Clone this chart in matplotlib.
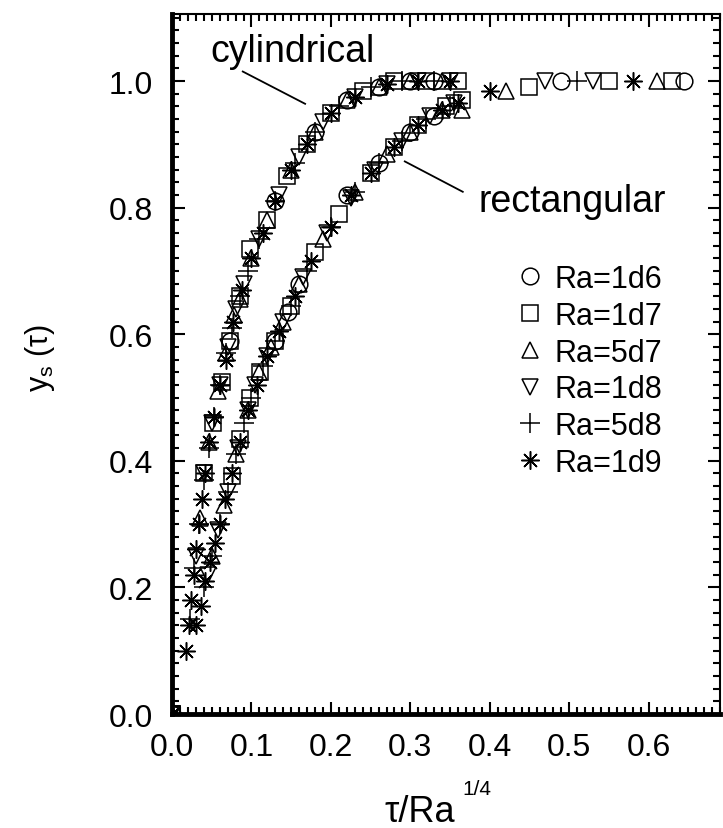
import matplotlib
matplotlib.use("Agg")
import matplotlib.pyplot as plt
from matplotlib.ticker import MultipleLocator, FormatStrFormatter

plt.rcParams['font.family'] = ['Liberation Sans', 'DejaVu Sans']

# series labels and markers
labels = ["Ra=1d6", "Ra=1d7", "Ra=5d7", "Ra=1d8", "Ra=5d8", "Ra=1d9"]

# cylindrical curves
cyl_x_1d6 = [0, 0.073, 0.13, 0.18, 0.22, 0.26, 0.30, 0.33]
cyl_y_1d6 = [0, 0.59, 0.81, 0.92, 0.97, 0.99, 1.0, 1.0]
cyl_x_1d7 = [0, 0.04, 0.052, 0.063, 0.073, 0.085, 0.098, 0.12, 0.145, 0.17, 0.20, 0.24, 0.28, 0.32, 0.36]
cyl_y_1d7 = [0, 0.38, 0.46, 0.525, 0.59, 0.66, 0.735, 0.78, 0.85, 0.90, 0.95, 0.985, 1.0, 1.0, 1.0]
cyl_x_5d7 = [0, 0.035, 0.047, 0.058, 0.068, 0.078, 0.086, 0.10, 0.12, 0.15, 0.18, 0.22, 0.26, 0.30, 0.34]
cyl_y_5d7 = [0, 0.31, 0.43, 0.51, 0.57, 0.63, 0.656, 0.72, 0.78, 0.86, 0.92, 0.97, 0.99, 1.0, 1.0]
cyl_x_1d8 = [0, 0.03, 0.04, 0.05, 0.06, 0.07, 0.08, 0.09, 0.11, 0.135, 0.16, 0.19, 0.23, 0.27, 0.31, 0.35]
cyl_y_1d8 = [0, 0.25, 0.38, 0.46, 0.52, 0.58, 0.64, 0.68, 0.75, 0.82, 0.88, 0.935, 0.975, 0.995, 1.0, 1.0]
cyl_x_5d8 = [0, 0.022, 0.028, 0.034, 0.04, 0.046, 0.053, 0.06, 0.068, 0.075, 0.085, 0.095, 0.11, 0.13,
             0.155, 0.18, 0.21, 0.25, 0.29, 0.33]
cyl_y_5d8 = [0, 0.15, 0.23, 0.30, 0.37, 0.42, 0.47, 0.52, 0.57, 0.61, 0.66, 0.70, 0.75, 0.81,
             0.87, 0.92, 0.96, 0.99, 1.0, 1.0]
cyl_x_1d9 = [0, 0.018, 0.021, 0.024, 0.027, 0.030, 0.034, 0.038, 0.042, 0.047, 0.053, 0.06, 0.068,
             0.077, 0.088, 0.10, 0.115, 0.13, 0.15, 0.17, 0.20, 0.23, 0.27, 0.31, 0.35]
cyl_y_1d9 = [0, 0.10, 0.14, 0.18, 0.22, 0.26, 0.30, 0.34, 0.38, 0.43, 0.47, 0.52, 0.56,
             0.62, 0.67, 0.72, 0.76, 0.81, 0.86, 0.90, 0.95, 0.975, 0.995, 1.0, 1.0]

# rectangular curves
rect_x_1d6 = [0, 0.13, 0.146, 0.16, 0.22, 0.26, 0.30, 0.33, 0.49, 0.645]
rect_y_1d6 = [0, 0.59, 0.635, 0.68, 0.82, 0.87, 0.92, 0.945, 1.0, 1.0]
rect_x_1d7 = [0, 0.075, 0.086, 0.098, 0.111, 0.13, 0.15, 0.18, 0.21, 0.25, 0.28, 0.31, 0.345, 0.365,
              0.45, 0.55, 0.63]
rect_y_1d7 = [0, 0.376, 0.435, 0.50, 0.54, 0.59, 0.645, 0.73, 0.79, 0.855, 0.895, 0.93, 0.96, 0.97,
              0.99, 1.0, 1.0]
rect_x_5d7 = [0, 0.05, 0.065, 0.08, 0.095, 0.11, 0.125, 0.14, 0.16, 0.19, 0.23, 0.27, 0.30, 0.34,
              0.365, 0.42, 0.61]
rect_y_5d7 = [0, 0.25, 0.33, 0.41, 0.48, 0.54, 0.58, 0.62, 0.68, 0.75, 0.825, 0.885, 0.92, 0.955,
              0.955, 0.985, 1.0]
rect_x_1d8 = [0, 0.045, 0.058, 0.07, 0.083, 0.095, 0.105, 0.12, 0.14, 0.165, 0.195, 0.225, 0.255,
              0.29, 0.325, 0.355, 0.47, 0.53]
rect_y_1d8 = [0, 0.22, 0.29, 0.35, 0.42, 0.48, 0.52, 0.565, 0.62, 0.69, 0.76, 0.815, 0.86,
              0.905, 0.945, 0.965, 1.0, 1.0]
rect_x_5d8 = [0, 0.04, 0.05, 0.06, 0.07, 0.08, 0.09, 0.10, 0.115, 0.13, 0.15, 0.17, 0.20, 0.23,
              0.26, 0.29, 0.32, 0.35, 0.51]
rect_y_5d8 = [0, 0.20, 0.25, 0.30, 0.35, 0.41, 0.46, 0.50, 0.55, 0.59, 0.645, 0.70, 0.77, 0.825,
              0.87, 0.905, 0.94, 0.96, 1.0]
rect_x_1d9 = [0, 0.03, 0.036, 0.042, 0.048, 0.054, 0.06, 0.067, 0.075, 0.085, 0.095, 0.107, 0.12,
              0.135, 0.155, 0.175, 0.20, 0.225, 0.25, 0.28, 0.31, 0.34, 0.36, 0.40, 0.58]
rect_y_1d9 = [0, 0.14, 0.17, 0.21, 0.24, 0.27, 0.30, 0.34, 0.38, 0.43, 0.48, 0.52, 0.565,
              0.605, 0.66, 0.715, 0.77, 0.82, 0.855, 0.895, 0.93, 0.955, 0.965, 0.985, 1.0]

cyl_x = [cyl_x_1d6, cyl_x_1d7, cyl_x_5d7, cyl_x_1d8, cyl_x_5d8, cyl_x_1d9]
cyl_y = [cyl_y_1d6, cyl_y_1d7, cyl_y_5d7, cyl_y_1d8, cyl_y_5d8, cyl_y_1d9]
rect_x = [rect_x_1d6, rect_x_1d7, rect_x_5d7, rect_x_1d8, rect_x_5d8, rect_x_1d9]
rect_y = [rect_y_1d6, rect_y_1d7, rect_y_5d7, rect_y_1d8, rect_y_5d8, rect_y_1d9]

markers = ['o', 's', '^', 'v', '+', (8, 2, 0)]
sizes = [12, 11, 12, 12, 14, 13]

fig = plt.figure(figsize=(7.23, 8.29), dpi=100)
ax = fig.add_axes([0.238, 0.1375, 0.758, 0.8445])

for i in range(6):
    style = dict(marker=markers[i], linestyle='none', markersize=sizes[i], markerfacecolor='none',
                 markeredgecolor='black', markeredgewidth=1.1, color='black')
    ax.plot(cyl_x[i], cyl_y[i], label=labels[i], **style)
    ax.plot(rect_x[i], rect_y[i], **style)

ax.set_xlim(0, 0.69)
ax.set_ylim(0, 1.106)
ax.xaxis.set_major_locator(MultipleLocator(0.1))
ax.xaxis.set_minor_locator(MultipleLocator(0.01))
ax.yaxis.set_major_locator(MultipleLocator(0.2))
ax.yaxis.set_minor_locator(MultipleLocator(0.02))
ax.xaxis.set_major_formatter(FormatStrFormatter('%.1f'))
ax.yaxis.set_major_formatter(FormatStrFormatter('%.1f'))
ax.tick_params(which='both', direction='in', top=True, right=True, labelsize=23, width=1.5)
ax.tick_params(which='major', length=9)
ax.tick_params(which='minor', length=5)
ax.tick_params(axis='y', pad=14)
ax.tick_params(axis='x', pad=13)
for s in ['left', 'bottom']:
    ax.spines[s].set_linewidth(3.5)
for s in ['top', 'right']:
    ax.spines[s].set_linewidth(1.5)

# annotations
ax.text(0.151, 1.031, "cylindrical", fontsize=27, ha='center', va='baseline')
ax.plot([0.089, 0.1675], [1.015, 0.964], color='black', linewidth=1.3)
ax.text(0.504, 0.795, "rectangular", fontsize=27, ha='center', va='baseline')
ax.plot([0.293, 0.366], [0.873, 0.825], color='black', linewidth=1.3)

ax.legend(loc='center left', bbox_to_anchor=(0.6, 0.49), frameon=False, fontsize=22,
          handlelength=0.9, handletextpad=0.35, labelspacing=0.22, borderpad=0,
          numpoints=1)

fig.text(0.581, 0.0205, "\u03c4/Ra", fontsize=26, ha='center', va='center')
fig.text(0.66, 0.048, "1/4", fontsize=15, ha='center', va='center')
fig.text(0.055, 0.568, r"y$_\mathregular{s}$ (\u03c4)".replace(r"\u03c4", "\u03c4"),
         fontsize=22, rotation=90, ha='center', va='center')

fig.savefig("out.png", dpi=100)
